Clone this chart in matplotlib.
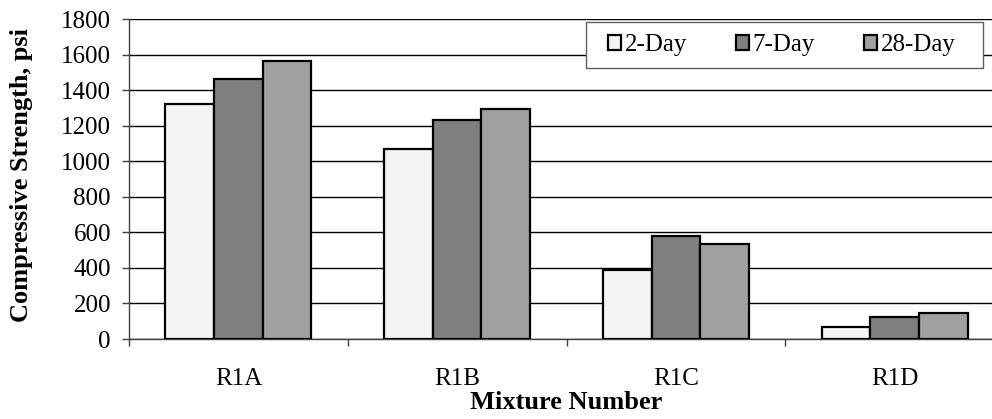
import matplotlib
matplotlib.use("Agg")
import matplotlib.pyplot as plt
import numpy as np
from matplotlib.patches import Patch, Rectangle

# Compressive strength by mixture and curing age
mixtures = ["R1A", "R1B", "R1C", "R1D"]
ages = ["2-Day", "7-Day", "28-Day"]
strength_2day = [1320, 1070, 390, 67]
strength_7day = [1460, 1230, 578, 125]
strength_28day = [1562, 1292, 537, 147]
y_ticks = [0, 200, 400, 600, 800, 1000, 1200, 1400, 1600, 1800]

colors = ["#F4F4F4", "#7F7F7F", "#A0A0A0"]
series = [strength_2day, strength_7day, strength_28day]

plt.rcParams["font.family"] = ["Liberation Serif", "DejaVu Serif"]
FS = 18

W, H = 992, 419
fig = plt.figure(figsize=(W / 100, H / 100), dpi=100)
ax = fig.add_axes([129 / W, 1 - 339 / H, 875 / W, 320 / H])

x = np.arange(len(mixtures))
bw = 1 / 4.5
for i, (vals, col) in enumerate(zip(series, colors)):
    ax.bar(x + (i - 1) * bw, vals, width=bw, color=col, edgecolor="black",
           linewidth=1.6, zorder=3, label=ages[i])

ax.set_xlim(-0.5, 3.5)
ax.set_ylim(0, 1800)
ax.set_yticks(y_ticks)
ax.set_yticklabels([str(v) for v in y_ticks], fontsize=FS)
ax.yaxis.grid(True, color="black", linewidth=1.0, zorder=0)
ax.set_axisbelow(True)

# category labels centred, tick marks at the category boundaries
ax.set_xticks(x)
ax.set_xticklabels(mixtures, fontsize=FS)
ax.tick_params(axis="x", which="major", length=0, pad=21)
ax.set_xticks(np.arange(-0.5, 4.0, 1.0), minor=True)
ax.tick_params(axis="x", which="minor", length=5, width=1, color="#404040", direction="out")
ax.tick_params(axis="y", length=5, width=1, color="#404040", direction="out", pad=8)

for s in ["top", "right"]:
    ax.spines[s].set_visible(False)
for s in ["left", "bottom"]:
    ax.spines[s].set_color("#404040")
    ax.spines[s].set_linewidth(1.0)

ax.set_ylabel("Compressive Strength, psi", fontsize=19, fontweight="bold")
ax.yaxis.label.set_va("center")
ax.yaxis.set_label_coords((22 - 129) / 875, (339 - 175) / 320)
ax.set_xlabel("Mixture Number", fontsize=19, fontweight="bold")
ax.xaxis.set_label_coords(0.5, (339 - 391) / 320)

# legend box drawn separately so its padding can differ horizontally and vertically
frame = Rectangle((586 / W, 1 - 67.7 / H), (983 - 586) / W, 46 / H,
                  transform=fig.transFigure, facecolor="white", edgecolor="#606060",
                  linewidth=1.0, clip_on=False, zorder=6)
ax.add_patch(frame)

handles = [Patch(facecolor=c, edgecolor="black", linewidth=1.6, label=a)
           for c, a in zip(colors, ages)]
leg = ax.legend(handles=handles, ncol=3, loc="center left",
                bbox_to_anchor=(608 / W, 1 - 45.5 / H),
                bbox_transform=fig.transFigure, borderaxespad=0, borderpad=0,
                fontsize=FS, frameon=False,
                handlelength=0.52, handleheight=0.52, handletextpad=0.15,
                columnspacing=1.95)
leg.set_zorder(7)

fig.savefig("out.png", dpi=100)
